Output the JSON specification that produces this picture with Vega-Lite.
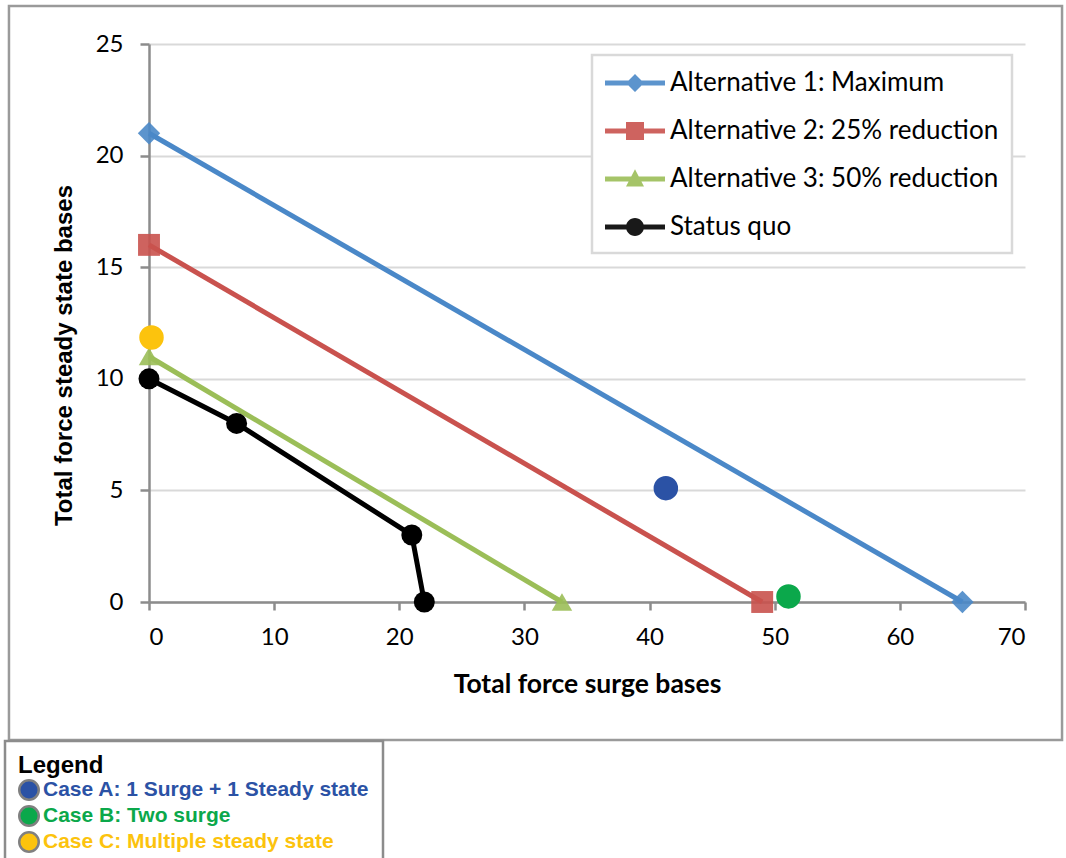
{
  "$schema": "https://vega.github.io/schema/vega-lite/v6.json",
  "width": 876,
  "height": 558,
  "autosize": "none",
  "padding": {"left": 149, "top": 44, "right": 41, "bottom": 256},
  "background": "white",
  "config": {
    "view": {"stroke": null},
    "legend": {"strokeWidth": 2.5},
    "axis": {
      "domainColor": "#8c8c8c",
      "domainWidth": 2.5,
      "tickColor": "#8c8c8c",
      "tickWidth": 2.5,
      "labelFont": "Lato",
      "labelFontSize": 24,
      "labelColor": "#000000",
      "titleColor": "#000000"
    }
  },
  "datasets": {
    "lines": [
      {"series": "Alternative 1: Maximum", "x": 0, "y": 21},
      {"series": "Alternative 1: Maximum", "x": 65, "y": 0},
      {"series": "Alternative 2: 25% reduction", "x": 0, "y": 16},
      {"series": "Alternative 2: 25% reduction", "x": 49, "y": 0},
      {"series": "Alternative 3: 50% reduction", "x": 0, "y": 11},
      {"series": "Alternative 3: 50% reduction", "x": 33, "y": 0},
      {"series": "Status quo", "x": 0, "y": 10},
      {"series": "Status quo", "x": 7, "y": 8},
      {"series": "Status quo", "x": 21, "y": 3},
      {"series": "Status quo", "x": 22, "y": 0}
    ],
    "cases": [
      {"case": "Case A: 1 Surge + 1 Steady state", "x": 41.3, "y": 5.1},
      {"case": "Case B: Two surge", "x": 51.1, "y": 0.25},
      {"case": "Case C: Multiple steady state", "x": 0.2, "y": 11.85}
    ]
  },
  "layer": [
    {
      "data": {"values": [{}]},
      "mark": {"type": "rect", "fill": null, "stroke": "#9a9a9a", "strokeWidth": 2.5, "clip": false},
      "encoding": {
        "x": {"datum": -11.19, "type": "quantitative", "scale": {"domain": [0, 70], "nice": false, "zero": false}},
        "x2": {"datum": 72.96},
        "y": {"datum": 26.70, "type": "quantitative", "scale": {"domain": [0, 25], "nice": false, "zero": false}},
        "y2": {"datum": -6.18}
      }
    },
    {
      "data": {"name": "lines"},
      "mark": {"type": "line", "strokeWidth": 5},
      "encoding": {
        "x": {
          "field": "x", "type": "quantitative",
          "scale": {"domain": [0, 70], "nice": false, "zero": false},
          "axis": {
            "values": [0, 10, 20, 30, 40, 50, 60, 70],
            "grid": false,
            "tickSize": 8,
            "labelPadding": 15,
            "title": "Total force surge bases",
            "titleFont": "Lato",
            "titleFontWeight": "bold",
            "titleFontSize": 26.5,
            "titlePadding": 22
          }
        },
        "y": {
          "field": "y", "type": "quantitative",
          "scale": {"domain": [0, 25], "nice": false, "zero": false},
          "axis": {
            "values": [0, 5, 10, 15, 20, 25],
            "grid": true,
            "gridColor": "#d9d9d9",
            "gridWidth": 2,
            "tickSize": 9,
            "labelPadding": 17,
            "title": "Total force steady state bases",
            "titleFont": "Liberation Sans",
            "titleFontWeight": "bold",
            "titleFontSize": 24,
            "titlePadding": 19,
            "titleY": 311
          }
        },
        "color": {
          "field": "series", "type": "nominal",
          "scale": {
            "domain": ["Alternative 1: Maximum", "Alternative 2: 25% reduction", "Alternative 3: 50% reduction", "Status quo"],
            "range": ["#4a88c8", "#c9524e", "#9bbe58", "#000000"]
          }
        },
        "detail": {"field": "series", "type": "nominal"}
      }
    },
    {
      "data": {"name": "lines"},
      "transform": [{"filter": "datum.series === 'Alternative 1: Maximum'"}],
      "mark": {"type": "point", "filled": true, "opacity": 0.9, "shape": "diamond", "size": 500},
      "encoding": {
        "x": {"field": "x", "type": "quantitative"},
        "y": {"field": "y", "type": "quantitative"},
        "color": {"field": "series", "type": "nominal"}
      }
    },
    {
      "data": {"name": "lines"},
      "transform": [{"filter": "datum.series === 'Alternative 2: 25% reduction'"}],
      "mark": {"type": "point", "filled": true, "opacity": 0.9, "shape": "square", "size": 480},
      "encoding": {
        "x": {"field": "x", "type": "quantitative"},
        "y": {"field": "y", "type": "quantitative"},
        "color": {"field": "series", "type": "nominal"}
      }
    },
    {
      "data": {"name": "lines"},
      "transform": [{"filter": "datum.series === 'Alternative 3: 50% reduction'"}],
      "mark": {"type": "point", "filled": true, "opacity": 0.9, "shape": "triangle-up", "size": 420},
      "encoding": {
        "x": {"field": "x", "type": "quantitative"},
        "y": {"field": "y", "type": "quantitative"},
        "color": {"field": "series", "type": "nominal"}
      }
    },
    {
      "data": {"name": "lines"},
      "transform": [{"filter": "datum.series === 'Status quo'"}],
      "mark": {"type": "point", "filled": true, "opacity": 1, "shape": "circle", "size": 440},
      "encoding": {
        "x": {"field": "x", "type": "quantitative"},
        "y": {"field": "y", "type": "quantitative"},
        "color": {"field": "series", "type": "nominal"}
      }
    },
    {
      "data": {"name": "cases"},
      "mark": {"type": "point", "filled": true, "opacity": 1, "shape": "circle", "size": 600},
      "encoding": {
        "x": {"field": "x", "type": "quantitative"},
        "y": {"field": "y", "type": "quantitative"},
        "fill": {
          "field": "case", "type": "nominal",
          "scale": {
            "domain": ["Case A: 1 Surge + 1 Steady state", "Case B: Two surge", "Case C: Multiple steady state"],
            "range": ["#2b52a5", "#0ba84b", "#fcc30d"]
          },
          "legend": {
            "orient": "none",
            "legendX": -144,
            "legendY": 697,
            "title": "Legend",
            "titleFont": "Liberation Sans",
            "titleFontWeight": "bold",
            "titleFontSize": 24,
            "titleColor": "#000000",
            "titlePadding": 1,
            "labelFont": "Liberation Sans",
            "labelFontWeight": "bold",
            "labelFontSize": 21,
            "labelLimit": 500,
            "labelColor": {"expr": "indexof(datum.label, 'Case A') === 0 ? '#2b52a5' : indexof(datum.label, 'Case B') === 0 ? '#0ba84b' : '#fcc30d'"},
            "labelOffset": 3,
            "symbolType": "circle",
            "symbolSize": 380,
            "symbolStrokeColor": "#808080",
            "symbolStrokeWidth": 2.5,
            "rowPadding": -6,
            "padding": 13,
            "strokeColor": "#8c8c8c",
            "fillColor": "#ffffff",
            "cornerRadius": 0
          }
        }
      }
    },
    {
      "data": {"name": "lines"},
      "mark": {"type": "point", "filled": true, "opacity": 0},
      "encoding": {
        "x": {"field": "x", "type": "quantitative"},
        "y": {"field": "y", "type": "quantitative"},
        "color": {
          "field": "series", "type": "nominal",
          "legend": {
            "orient": "none",
            "legendX": 443,
            "legendY": 11,
            "title": null,
            "labelFont": "Lato",
            "labelFontSize": 26,
            "labelColor": "#000000",
            "labelLimit": 600,
            "labelOffset": 35,
            "symbolSize": 900,
            "symbolOpacity": 1,
            "symbolStrokeWidth": 0,
            "rowPadding": 20,
            "padding": 13,
            "strokeColor": "#d9d9d9",
            "fillColor": "#ffffff"
          }
        },
        "shape": {
          "field": "series", "type": "nominal",
          "scale": {
            "domain": ["Alternative 1: Maximum", "Alternative 2: 25% reduction", "Alternative 3: 50% reduction", "Status quo"],
            "range": [
              "M-1,-0.17L3,-0.17L3,0.17L-1,0.17Z M1,-0.6L1.6,0L1,0.6L0.4,0Z",
              "M-1,-0.17L3,-0.17L3,0.17L-1,0.17Z M0.4,-0.6L1.6,-0.6L1.6,0.6L0.4,0.6Z",
              "M-1,-0.17L3,-0.17L3,0.17L-1,0.17Z M1,-0.65L1.6,0.5L0.4,0.5Z",
              "M-1,-0.17L3,-0.17L3,0.17L-1,0.17Z M1.6,0A0.6,0.6 0 1,1 0.4,0A0.6,0.6 0 1,1 1.6,0Z"
            ]
          },
          "legend": {
            "orient": "none",
            "legendX": 443,
            "legendY": 11,
            "title": null,
            "labelFont": "Lato",
            "labelFontSize": 26,
            "labelColor": "#000000",
            "labelLimit": 600,
            "labelOffset": 35,
            "symbolSize": 900,
            "symbolOpacity": 1,
            "symbolStrokeWidth": 0,
            "rowPadding": 20,
            "padding": 13,
            "strokeColor": "#d9d9d9",
            "fillColor": "#ffffff"
          }
        }
      }
    }
  ]
}
